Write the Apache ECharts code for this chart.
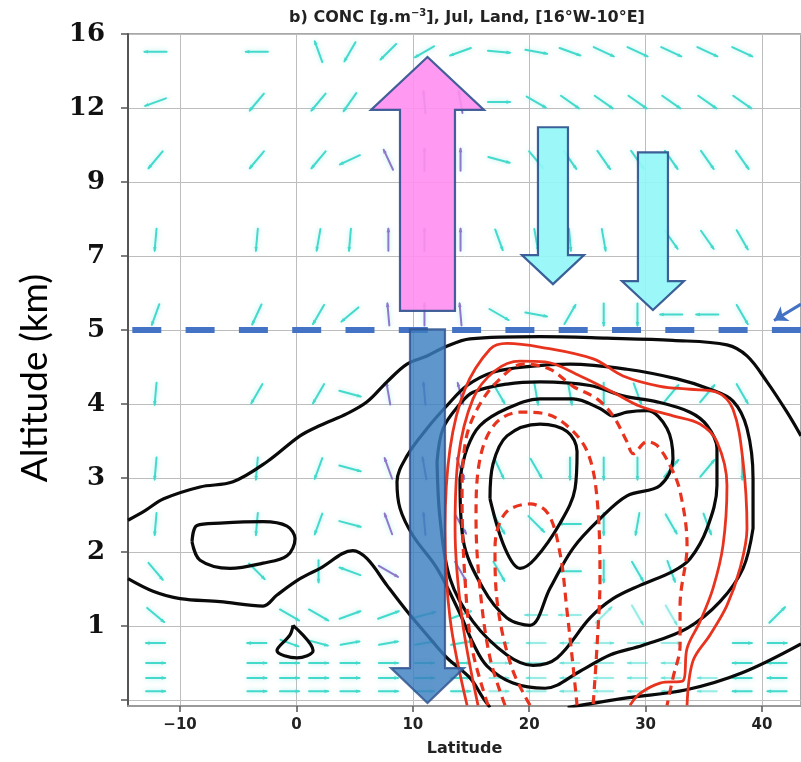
<!DOCTYPE html>
<html>
<head>
<meta charset="utf-8">
<script src="https://cdn.jsdelivr.net/npm/echarts@6/dist/echarts.min.js"></script>
<style>
html,body{margin:0;padding:0;background:#fff}
#chart{width:801px;height:762px}
</style>
</head>
<body>
<div id="chart"></div>
<script>
// ---- axes: one grid row per altitude level ----
const levelTicks = [0, 1, 2, 3, 4, 5, 6, 7, 8, 9];
const altitudeLabels = ['', '1', '2', '3', '4', '5', '7', '9', '12', '16'];
const latitudeTicks = [-10, 0, 10, 20, 30, 40];

// ---- wind field (direction in degrees, 0 = northward/right, 90 = upward) ----
const windLat = [-12.1, -9.3, -6.4, -3.4, -0.6, 1.9, 4.6, 7.9, 11.0, 14.1, 17.4, 20.6, 23.5, 26.4, 29.3, 32.2, 35.3, 38.3, 41.3];
const windLevel = [8.76, 8.08, 7.30, 6.22, 5.21, 4.14, 3.13, 2.38, 1.74, 1.15, 0.77, 0.50, 0.30, 0.12];
const n = null;
const windDir = [
  [180, n, n, 180, n, 110, 240, 225, 210, 200, -5, -10, -20, -25, -25, -25, -25, -25, n],
  [200, n, n, 230, n, 230, 235, n, 95, 100, 0, -30, -35, -35, -35, -35, -35, -35, n],
  [230, n, n, 230, n, 230, 205, 115, 90, 90, -15, -50, -55, -55, -55, -55, -55, -55, n],
  [-95, n, n, -95, n, -100, -95, 90, 90, 90, -70, -80, -85, -80, n, -55, -55, -60, n],
  [250, n, n, 245, n, 240, 220, 95, 90, 95, -30, -10, 60, -90, -90, 180, 180, -60, n],
  [-95, n, n, 240, n, 240, -15, 100, 95, 105, -60, -80, -80, -90, -70, 50, 50, -60, n],
  [-95, n, n, -95, n, 250, -15, 110, 100, -70, -65, -60, -90, -90, -90, 50, 50, -90, n],
  [-95, n, n, -95, n, 250, -15, 110, 95, -60, -60, -45, 180, -90, -100, -60, -70, n, n],
  [-50, n, n, -45, n, -90, 160, -30, n, -60, -60, n, 180, -90, -60, -70, n, n, n],
  [-40, n, n, n, -30, -30, 20, 20, 15, 20, n, 180, 180, 45, -60, -60, n, n, 45],
  [180, n, n, 180, -20, -15, 10, 10, 10, 10, 0, 180, 180, 0, 0, 0, n, 0, 0],
  [0, n, n, 0, 0, 0, 0, 0, 0, 0, 0, 180, 180, 180, 180, 180, n, 180, 180],
  [0, n, n, 0, 0, 0, 0, 0, 0, 0, 0, 180, 180, 180, 180, 180, 180, 180, 180],
  [0, n, n, 0, 0, 0, 0, 0, 0, 0, 0, 180, 180, 180, 180, 180, 180, 180, 180]
];

// ---- concentration contours [latitude, level] ----
const concOuterTop = [[-14.47,2.43],[-13.0,2.56],[-11.4,2.72],[-8.28,2.88],[-5.45,2.95],[-2.53,3.22],[0.31,3.57],[2.03,3.71],[4.35,3.87],[6.07,4.03],[7.78,4.30],[9.5,4.54],[11.22,4.65],[12.77,4.77],[14.91,4.88],[20.93,4.91],[26.68,4.89],[32.35,4.86],[36.99,4.80],[38.71,4.65],[40.43,4.30],[42.15,3.89],[43.35,3.57]];
const concOuterLowLeft = [[-14.47,1.64],[-12.32,1.47],[-10.0,1.37],[-6.56,1.33],[-2.87,1.27],[-1.67,1.42],[0.31,1.64],[2.03,1.78],[4.85,2.02],[6.07,1.91],[7.78,1.55],[9.5,1.20],[11.22,0.88],[12.94,0.57],[14.91,0.30],[16.03,0.03],[16.63,-0.1]];
const concOuterLowRight = [[23.3,-0.1],[28.4,0.03],[33.5,0.14],[38.3,0.37],[43.35,0.76]];
const concHoleWest = [[-8.97,2.14],[-8.54,2.36],[-6.56,2.39],[-2.87,2.41],[-0.81,2.35],[-0.12,2.18],[-0.81,1.95],[-2.87,1.85],[-5.7,1.78],[-8.28,1.89],[-8.97,2.14]];
const concIsland = [[-0.29,1.01],[1.43,0.67],[0.05,0.57],[-1.67,0.67],[-0.55,0.88],[-0.29,1.01]];
const concLevel2 = [[39.23,2.32],[38.37,1.78],[36.39,1.33],[33.56,0.97],[29.78,0.74],[26.94,0.61],[24.37,0.39],[21.36,0.16],[18.61,0.23],[16.38,0.46],[15.17,0.77],[14.05,1.17],[12.08,1.78],[10.02,2.22],[8.9,2.59],[8.64,2.95],[9.5,3.30],[11.22,3.67],[12.94,3.98],[14.66,4.25],[16.89,4.43],[20.07,4.51],[23.51,4.54],[28.4,4.47],[32.7,4.34],[35.53,4.20],[37.51,4.04],[38.71,3.67],[39.23,2.99],[39.23,2.32]];
const concLevel3 = [[12.08,3.22],[12.6,3.67],[14.05,4.0],[15.17,4.16],[18.09,4.27],[20.93,4.30],[25.23,4.25],[28.06,4.11],[30.98,4.03],[33.82,3.89],[35.28,3.71],[36.13,3.40],[36.13,2.90],[35.28,2.32],[33.82,1.91],[32.35,1.74],[29.52,1.55],[27.2,1.37],[25.23,1.11],[22.39,0.57],[20.33,0.47],[18.09,0.61],[15.17,1.06],[13.2,1.64],[12.34,2.45],[12.08,3.22]];
const concLevel4 = [[14.05,2.99],[14.66,3.40],[15.77,3.71],[18.09,3.94],[20.93,4.07],[23.76,4.07],[26.08,3.94],[27.2,3.84],[28.4,3.89],[30.12,3.91],[31.84,3.67],[32.35,3.26],[31.24,2.90],[28.4,2.76],[26.08,2.45],[23.76,2.05],[21.79,1.51],[20.07,1.01],[18.09,1.11],[16.03,1.51],[14.31,2.18],[14.05,2.99]];
const concLevel5 = [[16.63,2.72],[16.89,3.19],[18.09,3.57],[20.93,3.73],[23.25,3.63],[24.11,3.36],[23.94,2.86],[22.65,2.39],[20.5,1.91],[19.21,1.78],[17.92,2.05],[16.63,2.72]];

// ---- second field, red contours ----
const redSolidOuter = [[14.66,-0.07],[13.2,1.10],[12.77,2.32],[13.2,3.40],[14.48,4.20],[16.63,4.74],[18.09,4.82],[20.93,4.77],[25.5,4.61],[28.06,4.38],[31.24,4.24],[33.82,4.20],[36.13,4.16],[37.51,3.93],[38.37,3.22],[38.71,2.32],[38.11,1.78],[36.99,1.28],[35.53,0.88],[34.07,0.53],[33.56,-0.07]];
const redSolidInner = [[15.6,-0.07],[14.23,1.10],[13.63,2.32],[13.89,3.26],[15.17,4.07],[17.06,4.45],[19.21,4.58],[21.36,4.57],[24.37,4.38],[27.2,4.16],[29.52,3.97],[32.35,3.84],[34.67,3.73],[36.13,3.49],[36.99,2.90],[36.65,2.09],[35.79,1.51],[34.67,1.06],[33.56,0.70],[33.22,0.26],[31.24,0.23],[29.52,0.09],[28.66,-0.07]];
const redDashA = [[16.46,-0.07],[15.09,0.70],[14.48,1.64],[14.23,2.72],[14.57,3.53],[15.77,4.0],[17.49,4.34],[19.47,4.54],[21.79,4.47],[23.76,4.24],[25.83,4.07],[27.2,3.84],[28.4,3.49],[28.92,3.33],[30.12,3.49],[30.98,3.44],[32.1,3.17],[32.96,2.82],[33.56,2.09],[32.96,1.28],[32.96,0.74],[32.35,0.30],[31.84,-0.07]];
const redDashB = [[17.92,-0.07],[16.63,0.57],[15.77,1.51],[15.43,2.45],[15.77,3.26],[17.06,3.73],[19.21,3.89],[21.36,3.87],[23.51,3.67],[25.06,3.33],[25.83,2.72],[26.08,1.64],[25.83,0.74],[25.49,-0.07]];
const redDashC = [[20.07,-0.07],[18.52,0.43],[17.32,1.24],[17.06,2.05],[17.92,2.52],[20.07,2.65],[21.62,2.52],[22.65,1.98],[23.25,1.20],[23.76,0.47],[24.11,-0.07]];

// ---- schematic circulation arrows: [latitude, tail level, tip level] ----
const ascentArrow = [[11.26, 5.26, 8.69]];
const descentCore = [[11.26, 5.01, -0.04]];
const subsidenceArrows = [[22.04, 7.74, 5.62], [30.63, 7.40, 5.27]];
const boundaryLevel = 5;
const boundaryPointer = [[43.35, 5.35], [41.03, 5.13]];

const X_MIN = -14.47, X_MAX = 43.35, Y_MIN = -0.08, Y_MAX = 9;

const windData = [];
windDir.forEach((row, r) => row.forEach((dir, c) => {
  if (dir !== null) windData.push([windLat[c], windLevel[r], dir]);
}));

function windColor(lat, lev) {
  if (lat > 7 && lat < 15 && lev > 1.5 && lev < 8.5) return '#9077cc';
  if (lat > 15 && lat < 36 && lev < 1.3) return 'rgba(64,220,206,0.5)';
  return '#43d9cb';
}

function renderWind(params, api) {
  const lat = api.value(0), lev = api.value(1), dir = api.value(2);
  const p = api.coord([lat, lev]);
  const a = dir * Math.PI / 180;
  const L = lev < 1 ? 19 : 22;
  const ux = Math.cos(a), uy = -Math.sin(a);
  const x1 = p[0] - ux * L / 2, y1 = p[1] - uy * L / 2;
  const x2 = p[0] + ux * L / 2, y2 = p[1] + uy * L / 2;
  const px = -uy, py = ux, hl = 3.5, hw = 1.8;
  const color = windColor(lat, lev);
  return {
    type: 'group',
    children: [
      {type: 'line', shape: {x1, y1, x2, y2},
       style: {stroke: color, lineWidth: 2, lineCap: 'round', shadowBlur: 5, shadowColor: 'rgba(110,230,220,0.6)'}},
      {type: 'polygon', shape: {points: [[x2 + ux * 1.5, y2 + uy * 1.5],
        [x2 - ux * hl + px * hw, y2 - uy * hl + py * hw],
        [x2 - ux * hl - px * hw, y2 - uy * hl - py * hw]]},
       style: {fill: color}}
    ]
  };
}

function arrowRenderer(look) {
  return function (params, api) {
    const tail = api.coord([api.value(0), api.value(1)]);
    const tip = api.coord([api.value(0), api.value(2)]);
    const dir = tip[1] < tail[1] ? -1 : 1;
    const cx = tail[0];
    const baseY = tip[1] - dir * look.headLen;
    const s = look.shaft / 2, h = look.head / 2;
    return {
      type: 'polygon',
      shape: {points: [[cx - s, tail[1]], [cx - s, baseY], [cx - h, baseY], [cx, tip[1]],
                       [cx + h, baseY], [cx + s, baseY], [cx + s, tail[1]]]},
      style: {fill: look.fill, stroke: '#2f528f', lineWidth: 2.2, opacity: look.opacity}
    };
  };
}

function contour(data, color, dashed, width) {
  return {
    type: 'line', data: data, symbol: 'none', smooth: 0.35, z: 3, silent: true,
    lineStyle: {color: color, width: width, type: dashed ? [9, 6] : 'solid'},
    clip: true
  };
}

const BLACK = '#0a0a0a', RED = '#e8341f';

const chart = echarts.init(document.getElementById('chart'), null, {renderer: 'canvas'});
chart.setOption({
  animation: false,
  backgroundColor: '#fff',
  grid: {left: 128, right: 0, top: 34, bottom: 54, show: true, borderColor: '#8c8c8c', borderWidth: 1.5},
  xAxis: {
    type: 'value', min: X_MIN, max: X_MAX,
    name: 'Latitude', nameLocation: 'middle', nameGap: 35,
    nameTextStyle: {fontFamily: 'DejaVu Sans', fontWeight: 'bold', fontSize: 16, color: '#222'},
    axisLine: {show: true, onZero: false, lineStyle: {color: '#9a9a9a', width: 2}},
    axisTick: {show: true, length: 6, customValues: latitudeTicks, lineStyle: {color: '#555', width: 1.5}},
    axisLabel: {customValues: latitudeTicks, margin: 12, fontFamily: 'DejaVu Sans', fontWeight: 'bold', fontSize: 15, color: '#222',
      formatter: v => String(v).replace('-', '\u2212')},
    splitLine: {show: true, lineStyle: {color: '#bdbdbd', width: 1}}
  },
  yAxis: {
    type: 'value', min: Y_MIN, max: Y_MAX,
    axisLine: {show: true, onZero: false, lineStyle: {color: '#555', width: 2}},
    axisTick: {show: true, length: 7, customValues: levelTicks, lineStyle: {color: '#555', width: 1.5}},
    axisLabel: {customValues: levelTicks, margin: 23, fontFamily: 'DejaVu Serif', fontWeight: 'bold', fontSize: 26, color: '#111',
      formatter: v => altitudeLabels[Math.round(v)]},
    splitLine: {show: true, lineStyle: {color: '#bdbdbd', width: 1}}
  },
  graphic: [
    {type: 'text', x: 467, y: 18, silent: true, z: 10,
     style: {text: '{a|b) CONC [g.m}{s|\u22123}{a|], Jul, Land, [16\u00b0W-10\u00b0E]}',
       align: 'center', verticalAlign: 'middle',
       rich: {a: {fontFamily: 'DejaVu Sans', fontWeight: 'bold', fontSize: 16, fill: '#222'},
              s: {fontFamily: 'DejaVu Sans', fontWeight: 'bold', fontSize: 10, fill: '#222', padding: [0, 0, 9, 0]}}}},
    {type: 'text', x: 35, y: 378, rotation: Math.PI / 2, silent: true,
     style: {text: 'Altitude (km)', align: 'center', verticalAlign: 'middle',
       fontFamily: 'Lato', fontSize: 37, fill: '#000'}}
  ],
  series: [
    {type: 'custom', name: 'wind', data: windData, renderItem: renderWind, z: 2, silent: true, clip: true},
    contour(concOuterTop, BLACK, false, 3.2),
    contour(concOuterLowLeft, BLACK, false, 3.2),
    contour(concOuterLowRight, BLACK, false, 3.2),
    contour(concHoleWest, BLACK, false, 3.2),
    contour(concIsland, BLACK, false, 3.2),
    contour(concLevel2, BLACK, false, 3.2),
    contour(concLevel3, BLACK, false, 3.2),
    contour(concLevel4, BLACK, false, 3.2),
    contour(concLevel5, BLACK, false, 3.2),
    contour(redSolidOuter, RED, false, 2.8),
    contour(redSolidInner, RED, false, 2.8),
    contour(redDashA, RED, true, 3.2),
    contour(redDashB, RED, true, 3.2),
    contour(redDashC, RED, true, 3.2),
    {type: 'line', data: [[X_MIN, boundaryLevel], [X_MAX, boundaryLevel]], symbol: 'none', z: 5, silent: true,
     lineStyle: {color: '#4472c4', width: 6, type: [29, 24.3], dashOffset: 49},
     markLine: {silent: true, symbol: ['none', 'arrow'], symbolSize: 13, label: {show: false},
       lineStyle: {color: '#4472c4', width: 3, type: 'solid'},
       data: [[{coord: boundaryPointer[0]}, {coord: boundaryPointer[1]}]]}},
    {type: 'custom', data: ascentArrow, z: 6, silent: true, clip: false,
     renderItem: arrowRenderer({shaft: 55, head: 113, headLen: 53, fill: '#ff8ef0', opacity: 0.9})},
    {type: 'custom', data: descentCore, z: 6, silent: true, clip: false,
     renderItem: arrowRenderer({shaft: 35, head: 73, headLen: 35, fill: '#3c7fc0', opacity: 0.82})},
    {type: 'custom', data: subsidenceArrows, z: 6, silent: true, clip: false,
     renderItem: arrowRenderer({shaft: 30, head: 62, headLen: 29, fill: '#94f7f7', opacity: 0.92})}
  ]
});
</script>
</body>
</html>
